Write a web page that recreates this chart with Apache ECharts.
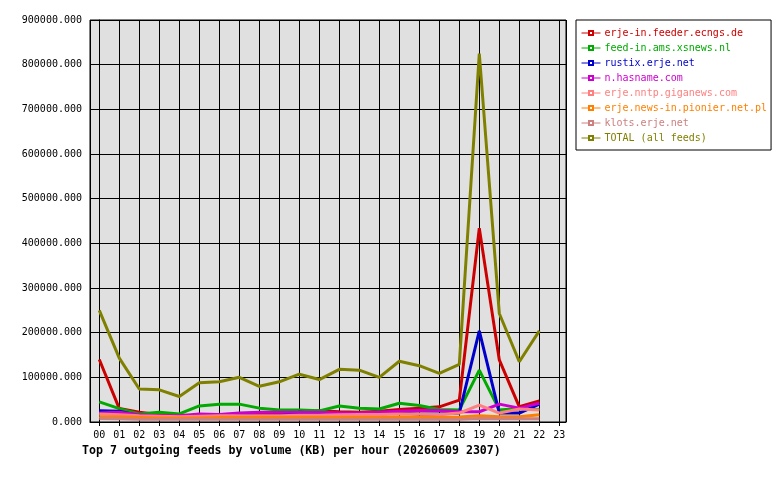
<!DOCTYPE html>
<html>
<head>
<meta charset="utf-8">
<script src="https://cdn.jsdelivr.net/npm/echarts@6/dist/echarts.min.js"></script>
<style>html,body{margin:0;padding:0;background:#fff;}#c{width:780px;height:480px;}</style>
</head>
<body>
<div id="c"></div>
<script>
const hours = ['00','01','02','03','04','05','06','07','08','09','10','11','12','13','14','15','16','17','18','19','20','21','22','23'];
const seriesNames = ['erje-in.feeder.ecngs.de','feed-in.ams.xsnews.nl','rustix.erje.net','n.hasname.com','erje.nntp.giganews.com','erje.news-in.pionier.net.pl','klots.erje.net','TOTAL (all feeds)'];
const seriesColors = ['#cc0000','#00aa00','#0000cc','#cc00cc','#ff8080','#ff8000','#cc8080','#808000'];
const feederEcngs = [140000,30000,22000,16000,15000,14000,15000,16000,17000,18000,20000,25000,23000,22000,24000,28000,31000,34000,49000,434000,139000,34000,47000];
const amsXsnews = [45000,30000,18000,22000,18000,36000,40000,40000,31000,27000,27000,25000,36000,31000,29000,42000,37000,28000,27000,116000,27000,30000,28000];
const rustix = [25000,24000,14000,12000,10000,12000,14000,15000,13000,14000,22000,20000,16000,15000,18000,20000,18000,18000,20000,204000,20000,20000,40000];
const hasname = [20000,22000,16000,14000,14000,18000,17000,20000,22000,22000,22000,22000,20000,20000,22000,24000,26000,26000,23000,23000,40000,31000,42000];
const giganews = [18000,16000,14000,13000,12000,13000,14000,14000,14000,14000,15000,15000,16000,17000,17000,18000,18000,17000,20000,38000,20000,29000,27000];
const pionier = [12000,11000,10000,9000,9000,9000,10000,10000,10000,10000,10000,10000,10000,10000,10000,11000,11000,10000,11000,14000,12000,12000,16000];
const klots = [8000,7000,6000,6000,6000,6000,6000,6000,6000,6000,6000,6000,6000,6000,6000,6000,6000,6000,6000,8000,7000,7000,7000];
const total = [250000,143000,74000,72000,57000,88000,90000,100000,80000,90000,107000,95000,118000,116000,100000,136000,126000,109000,129000,825000,243000,135000,204000];
const yTicks = [0,100000,200000,300000,400000,500000,600000,700000,800000,900000];
const titleText = 'Top 7 outgoing feeds by volume (KB) per hour (20260609 2307)';

const allData = [feederEcngs, amsXsnews, rustix, hasname, giganews, pionier, klots, total];
const FONT = 'DejaVu Sans Mono';

const chart = echarts.init(document.getElementById('c'), null, {renderer: 'canvas'});
chart.setOption({
  animation: false,
  backgroundColor: '#ffffff',
  title: {
    text: titleText,
    left: 82, top: 444, padding: 0,
    textStyle: {fontFamily: FONT, fontSize: 11.6, fontWeight: 'bold', color: '#000', lineHeight: 14}
  },
  legend: {
    orient: 'vertical',
    left: 576, top: 20,
    padding: [8, 4, 7, 5],
    itemWidth: 19, itemHeight: 5, itemGap: 5,
    borderColor: '#000', borderWidth: 1,
    selectedMode: false,
    lineStyle: {width: 1},
    textStyle: {fontFamily: FONT, fontSize: 10, lineHeight: 10, padding: [0,0,0,-1]},
    data: seriesNames.map((n, i) => ({name: n, textStyle: {color: seriesColors[i]}}))
  },
  grid: {
    left: 90, top: 20, width: 476, height: 402,
    show: true, backgroundColor: '#e0e0e0', borderColor: '#000', borderWidth: 1
  },
  xAxis: {
    type: 'value',
    min: -0.465, max: 23.335,
    splitNumber: 24, minInterval: 1, maxInterval: 1,
    axisLine: {show: true, lineStyle: {color: '#000', width: 1}},
    axisTick: {show: true, length: 4, lineStyle: {color: '#000'}},
    splitLine: {show: true, lineStyle: {color: '#000', width: 1}},
    axisLabel: {
      margin: 8,
      fontFamily: FONT, fontSize: 10, color: '#000',
      showMinLabel: false, showMaxLabel: false,
      formatter: v => (Number.isInteger(v) && hours[v] !== undefined) ? hours[v] : ''
    }
  },
  yAxis: {
    type: 'value',
    min: yTicks[0], max: yTicks[yTicks.length - 1], interval: yTicks[1] - yTicks[0],
    axisLine: {show: true, lineStyle: {color: '#000', width: 1}},
    axisTick: {show: true, length: 4, lineStyle: {color: '#000'}},
    splitLine: {show: true, lineStyle: {color: '#000', width: 1}},
    axisLabel: {
      margin: 8,
      fontFamily: FONT, fontSize: 10, color: '#000',
      formatter: v => v.toFixed(3)
    }
  },
  series: seriesNames.map((n, i) => ({
    name: n,
    type: 'line',
    data: allData[i].map((v, k) => [k, v]),
    showSymbol: false,
    symbol: 'emptyRect',
    symbolSize: 4,
    color: seriesColors[i],
    lineStyle: {width: 3, color: seriesColors[i]},
    itemStyle: {color: seriesColors[i], borderColor: seriesColors[i]},
    z: 2 + i
  }))
});
</script>
</body>
</html>
